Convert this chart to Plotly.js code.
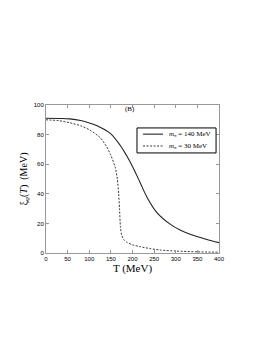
<!DOCTYPE html>
<html><head><meta charset="utf-8">
<script src="https://cdn.plot.ly/plotly-3.0.1.min.js"></script>
<style>html,body{margin:0;padding:0;background:#fff;}#c{width:265px;height:343px;}</style>
</head><body><div id="c"></div>
<script>
var T140 = [0, 30, 55, 80, 102, 125, 148, 171, 186, 200, 217, 233, 256, 287, 310, 333, 370, 400];
var xi140 = [91, 90.9, 90.6, 89.5, 87.6, 85, 81, 73, 66, 58.5, 48, 38, 27.5, 19.5, 15.5, 12.7, 9.3, 7];
var T30 = [0, 30, 55, 80, 102, 125, 140, 150, 160, 165, 168, 170, 172, 175, 180, 186, 200, 217, 240, 264, 300, 350, 400];
var xi30 = [90, 89.4, 88, 86, 83, 78, 72, 66, 58, 50, 40, 30, 18, 12, 9, 7.5, 5.5, 4.3, 3, 2, 1.3, 0.8, 0.5];
var xTicks = [0, 50, 100, 150, 200, 250, 300, 350, 400];
var yTicks = [0, 20, 40, 60, 80, 100];
var names = ['<i>m</i><sub>π</sub> = 140 MeV', '<i>m</i><sub>π</sub> = 30 MeV'];

var serif = 'Liberation Serif, Times New Roman';
var styles = [{color: '#222', width: 1.1}, {color: '#222', width: 0.9, dash: '2px,1.5px'}];
var traces = [
  {x: T140, y: xi140, mode: 'lines', line: Object.assign({shape: 'spline', smoothing: 1}, styles[0]), name: names[0]},
  {x: T30, y: xi30, mode: 'lines', line: Object.assign({shape: 'spline', smoothing: 0.6}, styles[1]), name: names[1]}
];
var axisCommon = {showline: true, linecolor: '#999', linewidth: 1, mirror: 'ticks', ticks: 'inside',
  ticklen: 3, tickcolor: '#999', showgrid: false, zeroline: false,
  tickfont: {family: 'Liberation Sans, Arial', size: 6, color: '#000'}};

// custom legend (box, line samples, labels)
var legY = [0.803, 0.723];
var shapes = [{type: 'rect', xref: 'paper', yref: 'paper', x0: 0.526, x1: 0.983, y0: 0.676, y1: 0.845,
  line: {color: '#000', width: 1}, fillcolor: '#fff'}];
var annotations = [{text: '(B)', x: 0.486, y: 0.975, xref: 'paper', yref: 'paper', showarrow: false,
    yanchor: 'middle', font: {family: serif, size: 7, color: '#000'}}];
for (var i = 0; i < 2; i++) {
  shapes.push({type: 'line', xref: 'paper', yref: 'paper', x0: 0.561, x1: 0.676, y0: legY[i], y1: legY[i],
    line: styles[i]});
  annotations.push({text: names[i], x: 0.699, y: legY[i], xref: 'paper', yref: 'paper', showarrow: false,
    xanchor: 'left', yanchor: 'middle', font: {family: serif, size: 7, color: '#000'}});
}

var layout = {
  width: 265, height: 343,
  margin: {l: 46, r: 46, t: 105, b: 90},
  paper_bgcolor: '#fff', plot_bgcolor: '#fff',
  showlegend: false,
  xaxis: Object.assign({}, axisCommon, {range: [0, 400], tickvals: xTicks,
    title: {text: 'T (MeV)', font: {family: serif, size: 11, color: '#000'}, standoff: 3}}),
  yaxis: Object.assign({}, axisCommon, {range: [0, 100], tickvals: yTicks,
    title: {text: 'ξ<sub>φ</sub>(<i>T</i>)  (MeV)', font: {family: serif, size: 10, color: '#000'}, standoff: 4}}),
  shapes: shapes,
  annotations: annotations
};
Plotly.newPlot('c', traces, layout, {displayModeBar: false, staticPlot: true});
</script></body></html>
